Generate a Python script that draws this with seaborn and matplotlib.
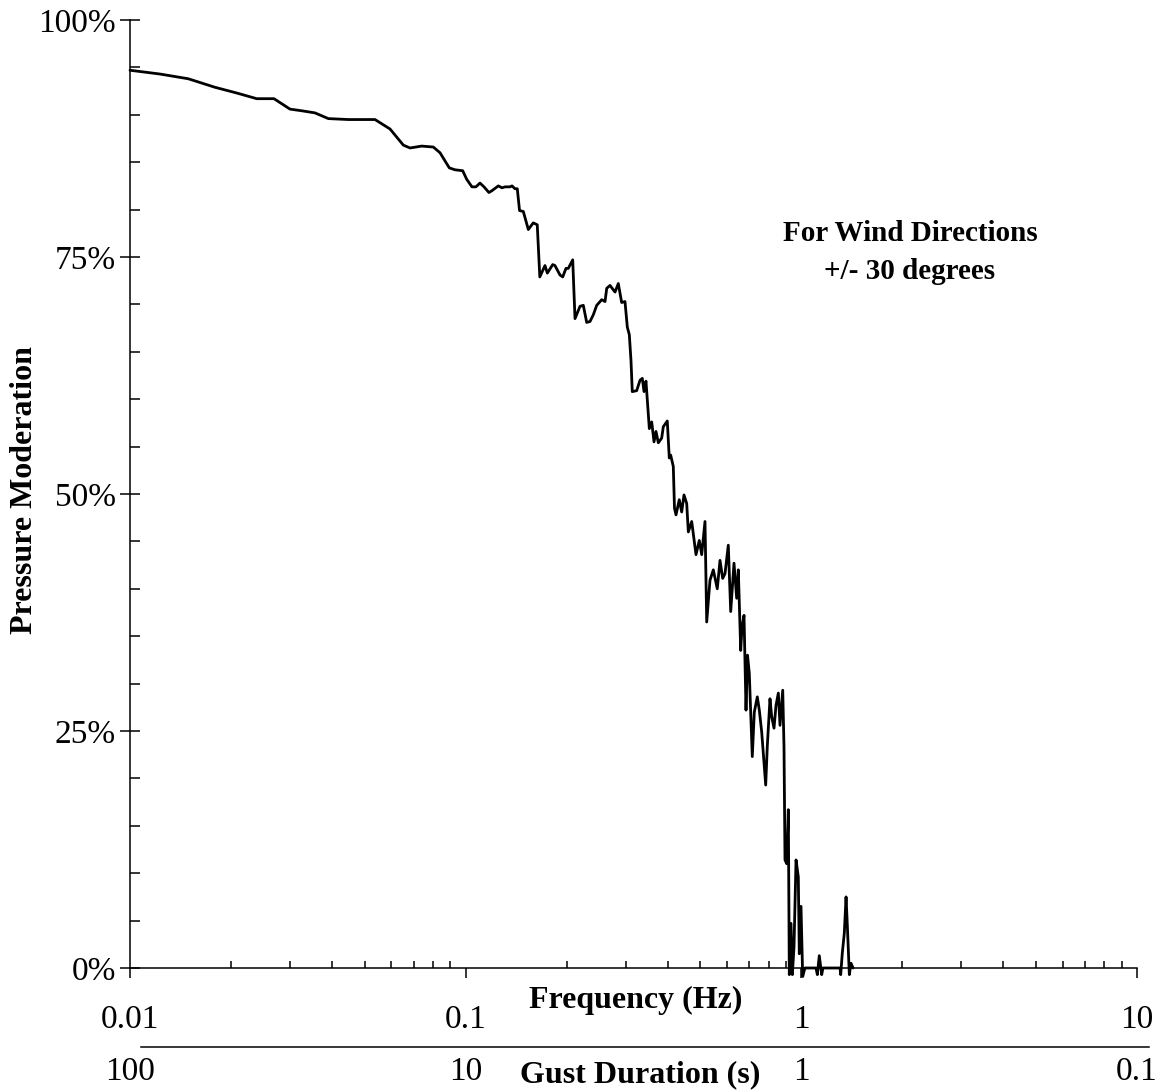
import numpy as np
import pandas as pd
import matplotlib
matplotlib.use("Agg")
import matplotlib.pyplot as plt
import seaborn as sns
from matplotlib.ticker import FixedLocator, MultipleLocator, NullFormatter, LogLocator

# ---- data ----
freq_hz = [0.0100, 0.01228, 0.01492, 0.01792, 0.02079, 0.02385, 0.02685, 0.02997, 0.03283, 0.03557,
           0.03897, 0.04470, 0.05369, 0.05953, 0.06521, 0.06828, 0.07396, 0.08010, 0.08385, 0.08939,
           0.09295, 0.09799, 0.1007, 0.1044, 0.1073, 0.1103, 0.1134, 0.1173, 0.1198, 0.1251,
           0.1283, 0.1310, 0.1356, 0.1374, 0.1403, 0.1425, 0.1447, 0.1485, 0.1537, 0.1590,
           0.1634, 0.1663, 0.1723, 0.1751, 0.1817, 0.1845, 0.1910, 0.1946, 0.1990, 0.2022,
           0.2084, 0.2117, 0.2191, 0.2241, 0.2294, 0.2347, 0.2400, 0.2457, 0.2543, 0.2601,
           0.2632, 0.2692, 0.2786, 0.2849, 0.2916, 0.2983, 0.3031, 0.3073, 0.3108, 0.3136,
           0.3232, 0.3307, 0.3359, 0.3399, 0.3445, 0.3525, 0.3583, 0.3640, 0.3690, 0.3749,
           0.3837, 0.3880, 0.3987, 0.4042, 0.4081, 0.4155, 0.4189, 0.4233, 0.4329, 0.4401,
           0.4471, 0.4555, 0.4606, 0.4714, 0.4855, 0.4966, 0.5049, 0.5164, 0.5225, 0.5344,
           0.5467, 0.5618, 0.5724, 0.5830, 0.5924, 0.6059, 0.6160, 0.6301, 0.6418, 0.6490,
           0.6598, 0.6657, 0.6749, 0.6842, 0.6913, 0.6998, 0.7143, 0.7243, 0.7393, 0.7496,
           0.7619, 0.7704, 0.7831, 0.7918, 0.8065, 0.8161, 0.8291, 0.8405, 0.8540, 0.8639,
           0.8802, 0.8879, 0.8940, 0.9046, 0.9146, 0.9208, 0.9317, 0.9401, 0.9509, 0.9643,
           0.9795, 0.9861, 0.9977, 1.0093, 1.025, 1.106, 1.116, 1.131, 1.150, 1.160,
           1.304, 1.310, 1.324, 1.343, 1.359, 1.371, 1.390, 1.406, 1.426]
moderation_pct = [94.7, 94.3, 93.8, 92.9, 92.3, 91.7, 91.7, 90.6, 90.4, 90.2,
                  89.6, 89.5, 89.5, 88.5, 86.8, 86.5, 86.7, 86.6, 86.0, 84.4,
                  84.2, 84.1, 83.2, 82.4, 82.4, 82.8, 82.4, 81.8, 82.0, 82.5,
                  82.3, 82.4, 82.4, 82.5, 82.2, 82.2, 79.9, 79.8, 77.9, 78.6,
                  78.4, 72.9, 74.1, 73.3, 74.2, 74.1, 73.1, 72.9, 73.8, 73.8,
                  74.7, 68.5, 69.8, 69.9, 68.1, 68.2, 68.9, 69.9, 70.5, 70.3,
                  71.7, 72.0, 71.3, 72.2, 70.2, 70.3, 67.6, 66.8, 64.1, 60.8,
                  60.9, 62.0, 62.2, 60.8, 61.9, 56.9, 57.6, 55.5, 56.6, 55.4,
                  55.9, 57.1, 57.7, 53.8, 54.1, 52.9, 48.5, 47.8, 49.4, 48.1,
                  49.9, 49.0, 46.0, 47.1, 43.6, 45.1, 43.6, 47.1, 36.5, 40.9,
                  42.0, 40.0, 43.0, 41.1, 41.6, 44.6, 37.6, 42.7, 39.0, 42.0,
                  33.5, 36.0, 37.2, 27.2, 33.0, 31.1, 22.3, 27.0, 28.6, 27.2,
                  24.9, 22.6, 19.3, 23.4, 28.4, 26.5, 25.3, 27.7, 29.0, 25.6,
                  29.3, 23.3, 11.4, 11.0, 16.7, -0.7, 4.7, -0.7, 2.2, 11.4,
                  9.6, 1.5, 6.5, -0.9, 0.0, 0.0, -0.7, 1.3, -0.7, 0.0,
                  0.0, -0.7, 1.5, 3.7, 7.5, 4.5, -0.7, 0.5, 0.0]

y_ticks = [0, 25, 50, 75, 100]
y_tick_labels = ["0%", "25%", "50%", "75%", "100%"]
freq_ticks = [0.01, 0.1, 1, 10]
freq_tick_labels = ["0.01", "0.1", "1", "10"]
gust_ticks = [100, 10, 1, 0.1]
gust_tick_labels = ["100", "10", "1", "0.1"]

df = pd.DataFrame({"freq": freq_hz, "pct": moderation_pct})

# ---- style ----
sns.set_style("ticks")
plt.rcParams["font.family"] = ["Liberation Serif", "DejaVu Serif"]
plt.rcParams["text.color"] = "black"
plt.rcParams["axes.labelcolor"] = "black"
plt.rcParams["xtick.color"] = "black"
plt.rcParams["ytick.color"] = "black"

W, H = 1158, 1092
fig = plt.figure(figsize=(W / 100, H / 100), dpi=100)
ax = fig.add_axes([130 / W, (H - 968) / H, 1007 / W, 948 / H])
ax.set_xscale("log")

sns.lineplot(data=df, x="freq", y="pct", ax=ax, color="black", linewidth=2.0,
             estimator=None, sort=False)
for ln in ax.lines:
    ln.set_clip_on(False)

ax.set_xlim(0.01, 10)
ax.set_ylim(0, 100)
ax.set_xlabel("")
ax.set_ylabel("")

for s in ["top", "right"]:
    ax.spines[s].set_visible(False)
for s in ["left", "bottom"]:
    ax.spines[s].set_color("black")
    ax.spines[s].set_linewidth(1.1)

# y ticks
ax.yaxis.set_major_locator(FixedLocator(y_ticks))
ax.set_yticklabels(y_tick_labels)
ax.yaxis.set_minor_locator(MultipleLocator(5))
ax.tick_params(axis="y", which="major", direction="inout", length=14, width=1.1,
               color="black", labelsize=24, pad=3, labelcolor="black")
ax.tick_params(axis="y", which="minor", direction="in", length=7, width=1.1, color="black")

# x ticks
ax.xaxis.set_major_locator(FixedLocator(freq_ticks))
ax.set_xticklabels(freq_tick_labels)
ax.xaxis.set_minor_locator(LogLocator(base=10, subs=np.arange(2, 10)))
ax.xaxis.set_minor_formatter(NullFormatter())
ax.tick_params(axis="x", which="major", direction="out", length=7, width=1.1,
               color="black", labelsize=24, pad=19, labelcolor="black")
ax.tick_params(axis="x", which="minor", direction="in", length=5, width=1.1, color="black")

# secondary (gust duration) axis
sec = ax.secondary_xaxis(-0.0833, functions=(lambda f: 1.0 / f, lambda t: 1.0 / t))
sec.xaxis.set_major_locator(FixedLocator(gust_ticks))
sec.set_xticklabels(gust_tick_labels)
sec.xaxis.set_minor_locator(FixedLocator([]))
sec.tick_params(axis="x", which="both", length=0, labelsize=24, pad=7, labelcolor="black")
sec.spines["bottom"].set_color("black")
sec.spines["bottom"].set_linewidth(1.1)
sec.spines["bottom"].set_bounds(0.0921, 92.7)

# labels
ax.text(0.502, -0.0338, "Frequency (Hz)", transform=ax.transAxes, ha="center", va="center",
        fontsize=23, fontweight="bold", color="black")
ax.text(0.5065, -0.1129, "Gust Duration (s)", transform=ax.transAxes, ha="center", va="center",
        fontsize=23, fontweight="bold", color="black")
ax.text(-0.1043, 0.504, "Pressure Moderation", transform=ax.transAxes, ha="center", va="center",
        rotation=90, fontsize=23, fontweight="bold", color="black")
ax.text(0.7746, 0.7753, "For Wind Directions", transform=ax.transAxes, ha="center", va="center",
        fontsize=21, fontweight="bold", color="black")
ax.text(0.7746, 0.7342, "+/- 30 degrees", transform=ax.transAxes, ha="center", va="center",
        fontsize=21, fontweight="bold", color="black")

fig.savefig("out.png", dpi=100)
